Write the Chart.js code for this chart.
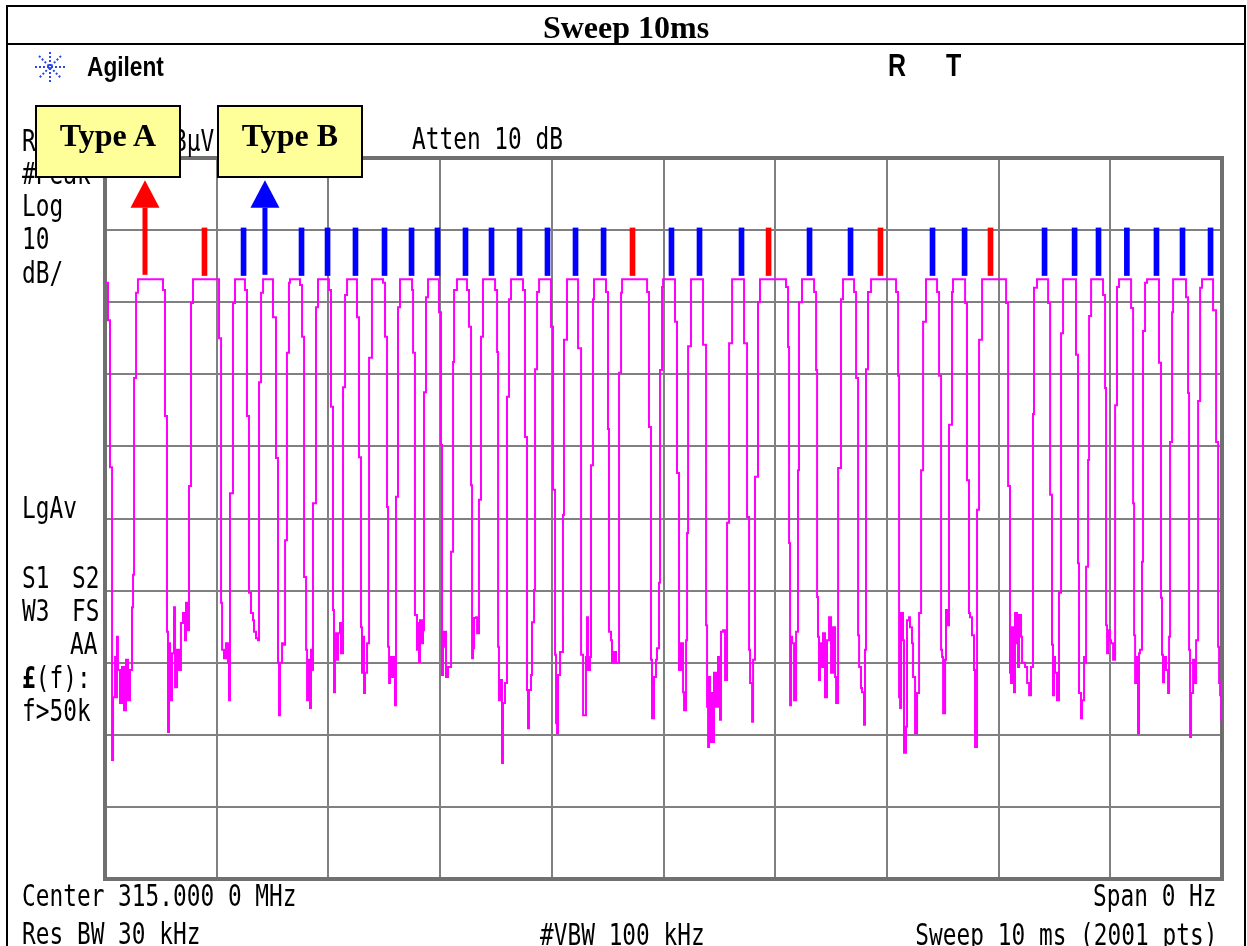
<!DOCTYPE html>
<html><head><meta charset="utf-8">
<script src="https://cdn.jsdelivr.net/npm/chart.js@4.4.1/dist/chart.umd.min.js"></script>
<style>
html,body{margin:0;padding:0;background:#fff;}
#wrap{position:relative;width:1247px;height:946px;overflow:hidden;background:#fff;}
#c{position:absolute;left:0;top:0;}
.outer{position:absolute;left:6px;top:5px;width:1236px;height:1000px;border:2px solid #000;}
.sep{position:absolute;left:6px;top:43px;width:1240px;height:2px;background:#000;}
.title{position:absolute;left:6px;top:9px;width:1240px;text-align:center;font:bold 32px "Liberation Serif";line-height:36px;color:#000;}
.ins{position:absolute;font-family:"DejaVu Sans Mono";font-size:30px;line-height:30px;transform:scaleX(0.76);transform-origin:0 0;white-space:pre;color:#000;}
.insr{transform-origin:100% 0;}
.brand{position:absolute;font-family:"Liberation Sans";font-weight:bold;white-space:pre;color:#000;transform-origin:0 0;}
.box{position:absolute;top:105px;width:142px;height:69px;border:2px solid #000;background:#ffff99;}
.boxt{position:absolute;top:117px;width:146px;text-align:center;font:bold 32px "Liberation Serif";line-height:36px;color:#000;}
</style></head>
<body>
<div id="wrap">
<canvas id="c" width="1247" height="946"></canvas>
<div class="outer"></div>
<div class="sep"></div>
<div class="title">Sweep 10ms</div>

<svg style="position:absolute;left:34px;top:51px" width="32" height="32" viewBox="0 0 32 32">
 <g stroke="#2a48e8" stroke-width="2" stroke-dasharray="2 2">
  <line x1="16" y1="1" x2="16" y2="31"/><line x1="1" y1="16" x2="31" y2="16"/>
  <line x1="5" y1="5" x2="27" y2="27"/><line x1="27" y1="5" x2="5" y2="27"/>
 </g>
</svg>
<div class="brand" style="left:87px;top:53px;font-size:28px;line-height:28px;transform:scaleX(0.81)">Agilent</div>
<div class="brand" style="left:888px;top:49px;font-size:32px;line-height:32px;transform:scaleX(0.78)">R</div>
<div class="brand" style="left:946px;top:49px;font-size:32px;line-height:32px;transform:scaleX(0.78)">T</div>

<div class="ins" style="left:22px;top:126px">Ref 107.0 dBµV</div>
<div class="ins" style="left:22px;top:159px">#Peak</div>
<div class="ins" style="left:412px;top:124px">Atten 10 dB</div>
<div class="ins" style="left:22px;top:191px">Log</div>
<div class="ins" style="left:22px;top:224px">10</div>
<div class="ins" style="left:22px;top:258px">dB/</div>
<div class="ins" style="left:22px;top:493px">LgAv</div>
<div class="ins" style="left:22px;top:563px">S1</div>
<div class="ins" style="left:72px;top:563px">S2</div>
<div class="ins" style="left:22px;top:596px">W3</div>
<div class="ins" style="left:72px;top:596px">FS</div>
<div class="ins" style="left:70px;top:629px">AA</div>
<div class="ins" style="left:22px;top:663px"><b>£</b>(f):</div>
<div class="ins" style="left:22px;top:696px">f&gt;50k</div>
<div class="ins" style="left:22px;top:881px">Center 315.000 0 MHz</div>
<div class="ins" style="left:22px;top:919px">Res BW 30 kHz</div>
<div class="ins" style="left:540px;top:920px">#VBW 100 kHz</div>
<div class="ins insr" style="right:30px;top:881px">Span 0 Hz</div>
<div class="ins insr" style="right:30px;top:920px">Sweep 10 ms (2001 pts)</div>

<div class="box" style="left:35px"></div>
<div class="boxt" style="left:35px">Type A</div>
<div class="box" style="left:217px"></div>
<div class="boxt" style="left:217px">Type B</div>
</div>

<script>
// Sweep: 0..10000 µs, level in dB relative to reference (top line = 0 dB, 10 dB/div)
const tracePoints = [
 [0,-17.3],[27,-22.5],[45,-42.9],[63,-83.5],
 [72,-74.8],[90,-69.2],[98,-74.8],[107,-66.4],[116,-71.0],[134,-75.6],[152,-70.6],[170,-76.6],[188,-69.6],[206,-75.2],[224,-71.0],[242,-62.3],[251,-57.8],
 [260,-30.5],[278,-18.7],[295,-16.8],[519,-18.3],[537,-35.8],[555,-65.7],
 [564,-79.6],[573,-67.3],[582,-75.2],[600,-68.7],[618,-62.3],[627,-73.4],[645,-68.2],[663,-71.0],[680,-64.5],[698,-63.1],[716,-66.9],[725,-61.7],[743,-65.5],
 [752,-45.5],[770,-20.1],[788,-16.8],[1021,-25.0],[1039,-61.7],
 [1048,-68.2],[1065,-69.4],[1083,-67.3],[1101,-70.0],[1110,-75.2],
 [1119,-46.5],[1146,-20.1],[1164,-16.8],[1253,-18.3],[1271,-35.8],[1289,-60.3],
 [1307,-63.1],[1325,-64.1],[1334,-65.7],[1352,-66.6],[1370,-66.9],
 [1379,-31.1],[1397,-18.7],[1415,-16.8],[1504,-22.1],[1531,-41.6],[1549,-70.0],
 [1558,-77.3],[1567,-70.0],[1585,-67.3],[1594,-67.5],
 [1612,-53.0],[1629,-27.0],[1647,-17.3],[1656,-16.8],[1746,-17.6],[1764,-24.8],[1782,-58.1],
 [1800,-68.2],[1809,-75.2],[1817,-69.6],[1835,-76.3],[1844,-68.2],[1853,-71.0],
 [1862,-47.9],[1889,-20.7],[1907,-16.8],[2005,-18.3],[2023,-34.5],[2041,-62.7],
 [2050,-74.1],[2059,-65.9],[2077,-69.6],[2086,-65.9],[2104,-64.5],[2113,-68.7],
 [2131,-31.8],[2149,-19.0],[2167,-16.8],[2256,-22.1],[2274,-41.5],[2292,-65.1],
 [2301,-71.4],[2310,-66.4],[2319,-74.2],[2328,-71.4],[2346,-67.3],
 [2364,-27.7],[2390,-16.8],[2489,-17.3],[2507,-24.8],[2525,-48.4],[2534,-67.8],
 [2543,-72.8],[2552,-69.2],[2570,-72.0],[2587,-69.2],[2596,-75.9],
 [2605,-47.0],[2623,-20.7],[2641,-16.8],[2749,-18.3],[2758,-27.0],[2775,-63.4],
 [2793,-68.2],[2802,-64.5],[2811,-69.9],[2820,-64.1],[2838,-67.3],[2847,-65.5],
 [2856,-32.5],[2874,-19.3],[2892,-16.8],[2990,-21.4],[3008,-39.8],[3017,-71.7],
 [3026,-67.8],[3035,-65.7],[3053,-72.0],[3071,-70.6],
 [3098,-54.6],[3116,-28.3],[3125,-18.3],[3151,-16.8],[3241,-18.3],[3259,-23.4],[3277,-45.4],[3286,-69.4],
 [3295,-68.0],[3304,-63.8],[3322,-63.7],[3331,-65.9],
 [3348,-47.4],[3366,-24.8],[3384,-16.8],[3492,-18.3],[3510,-26.9],[3519,-67.8],
 [3527,-75.2],[3536,-72.4],[3554,-83.9],[3563,-75.6],[3581,-72.8],
 [3599,-33.1],[3617,-19.6],[3635,-16.8],[3742,-18.3],[3760,-38.7],[3778,-73.8],
 [3787,-79.1],[3796,-73.8],[3814,-71.7],[3823,-64.4],[3841,-59.9],
 [3850,-29.3],[3868,-18.6],[3886,-16.8],[3993,-23.4],[4011,-46.0],[4029,-68.9],
 [4038,-78.4],[4047,-79.8],[4056,-71.7],[4074,-68.5],
 [4100,-49.5],[4109,-25.2],[4136,-16.8],[4235,-26.4],[4262,-68.9],
 [4280,-77.3],[4306,-69.2],[4315,-63.7],[4324,-71.0],[4342,-69.2],
 [4351,-42.6],[4369,-19.6],[4378,-16.8],[4485,-18.6],[4503,-37.6],[4512,-65.7],
 [4530,-66.9],[4539,-70.0],[4557,-68.5],[4575,-70.0],
 [4602,-29.8],[4620,-18.7],[4629,-16.8],[4853,-18.6],[4870,-37.3],[4888,-69.6],
 [4897,-77.7],[4915,-72.0],[4933,-69.6],[4942,-68.0],[4960,-58.9],
 [4969,-29.4],[4987,-17.9],[4996,-16.8],[5103,-22.7],[5121,-43.7],[5139,-71.0],
 [5157,-67.3],[5175,-74.1],[5184,-76.6],[5202,-66.9],
 [5211,-52.0],[5220,-26.1],[5246,-16.8],[5354,-25.9],[5381,-64.8],
 [5390,-76.1],[5399,-81.7],[5408,-72.0],[5417,-81.0],[5426,-74.2],[5443,-81.0],[5452,-71.4],[5470,-76.1],[5488,-69.2],[5506,-77.9],[5515,-65.7],[5533,-65.5],[5551,-72.4],
 [5569,-50.6],[5587,-25.7],[5614,-16.8],[5721,-25.7],[5748,-49.8],[5766,-68.2],
 [5775,-72.8],[5793,-78.2],[5802,-69.6],
 [5819,-44.2],[5846,-20.0],[5864,-16.8],[6097,-17.9],[6115,-26.2],[6124,-53.4],[6133,-75.9],[6142,-66.4],
 [6151,-67.3],[6169,-75.2],[6187,-65.7],
 [6204,-43.3],[6213,-20.0],[6240,-16.8],[6348,-18.6],[6366,-29.4],[6375,-60.9],
 [6383,-66.4],[6392,-72.4],[6401,-67.3],[6419,-70.6],[6428,-65.9],[6446,-74.8],[6464,-66.9],[6482,-63.7],[6500,-71.4],[6518,-65.1],[6536,-72.0],[6545,-75.6],
 [6563,-43.0],[6589,-19.6],[6607,-16.8],[6706,-18.6],[6724,-30.5],[6742,-66.2],
 [6751,-70.6],[6768,-73.5],[6777,-74.1],[6795,-78.6],[6804,-68.2],
 [6813,-29.3],[6831,-18.6],[6858,-16.8],[7082,-18.6],[7100,-30.2],[7109,-74.8],
 [7118,-76.3],[7127,-63.1],[7144,-66.9],[7153,-82.5],[7171,-78.9],[7180,-64.1],[7198,-63.7],[7207,-65.1],[7225,-67.3],[7234,-72.0],[7252,-79.8],[7270,-74.2],[7288,-63.1],
 [7306,-43.3],[7324,-22.7],[7350,-16.8],[7449,-18.6],[7467,-30.2],[7485,-68.2],
 [7494,-69.2],[7503,-77.0],[7521,-69.6],[7529,-62.7],[7547,-64.8],
 [7556,-37.0],[7583,-18.6],[7592,-16.8],[7700,-20.1],[7717,-44.7],[7735,-63.1],
 [7744,-63.7],[7762,-66.2],[7780,-71.0],[7789,-81.7],
 [7807,-48.8],[7825,-25.2],[7852,-16.8],[8067,-20.1],[8085,-45.5],[8102,-71.4],
 [8111,-72.8],[8120,-65.1],[8138,-74.1],[8147,-63.1],[8165,-67.3],[8174,-70.6],[8183,-63.4],[8201,-66.4],[8210,-70.0],[8237,-70.6],[8255,-72.8],[8273,-74.5],[8290,-70.6],
 [8308,-35.5],[8317,-18.0],[8344,-16.8],[8443,-20.1],[8461,-46.7],[8478,-67.5],
 [8487,-74.5],[8496,-69.2],[8505,-71.4],[8523,-75.2],[8541,-60.3],
 [8559,-24.3],[8577,-16.8],[8693,-27.3],[8711,-56.2],[8720,-74.2],
 [8738,-77.7],[8747,-75.2],[8765,-69.2],[8774,-70.0],[8783,-56.7],
 [8801,-41.9],[8810,-21.9],[8828,-16.8],[8935,-19.0],[8953,-31.9],[8962,-64.8],
 [8971,-68.7],[8980,-65.5],[8998,-66.9],[9007,-67.3],[9025,-69.6],
 [9043,-34.3],[9060,-17.9],[9078,-16.8],[9186,-20.8],[9204,-47.9],[9213,-66.2],
 [9222,-72.8],[9231,-69.2],[9248,-79.8],[9257,-68.7],[9266,-68.2],
 [9284,-56.0],[9293,-24.0],[9311,-17.3],[9329,-16.8],[9436,-28.4],[9454,-61.0],
 [9463,-68.9],[9472,-72.7],[9481,-69.2],[9499,-71.0],[9517,-74.2],[9526,-66.4],
 [9535,-39.4],[9553,-21.4],[9562,-16.8],[9678,-19.3],[9696,-32.6],[9705,-68.2],
 [9714,-80.3],[9723,-74.2],[9741,-69.6],[9750,-72.8],[9768,-66.9],
 [9786,-33.7],[9804,-18.0],[9821,-16.8],[9920,-21.1],[9947,-39.4],[9965,-67.8],
 [9974,-72.8],[9983,-74.5],[9992,-77.9],[10000,-82.5]
];
// Burst markers (µs): Type A (red) and Type B (blue)
const typeAUs = [913, 4745, 5963, 6965, 7950];
const typeBUs = [1218, 1737, 1970, 2220, 2480, 2722, 2954, 3205, 3438, 3689, 3939, 4190, 4441,
                 5049, 5300, 5676, 6285, 6652, 7386, 7673, 8389, 8658, 8872, 9126, 9391, 9624, 9875];
const markerRangeDb = [-16.3, -9.7];
// Arrows pointing at the labelled bursts
const arrowUs = [358, 1432];
const arrowColors = ['#ff0000', '#0000ff'];
const arrowDb = {base: -16.2, head: -6.9, tip: -3.1};
const xTicksUs = [0, 1000, 2000, 3000, 4000, 5000, 6000, 7000, 8000, 9000, 10000];
const yTicksDb = [-100, -90, -80, -70, -60, -50, -40, -30, -20, -10, 0];

const framePlugin = {
  id: 'frame',
  beforeDatasetsDraw(chart) {
    const {ctx, chartArea: a} = chart;
    ctx.save();
    ctx.strokeStyle = '#707070';
    ctx.lineWidth = 4;
    ctx.strokeRect(a.left, a.top, a.right - a.left, a.bottom - a.top);
    ctx.restore();
  }
};
const arrowPlugin = {
  id: 'arrows',
  afterDatasetsDraw(chart) {
    const {ctx} = chart, xs = chart.scales.x, ys = chart.scales.y;
    ctx.save();
    arrowUs.forEach((t, i) => {
      const px = xs.getPixelForValue(t);
      const yb = ys.getPixelForValue(arrowDb.base);
      const yh = ys.getPixelForValue(arrowDb.head);
      const yt = ys.getPixelForValue(arrowDb.tip);
      ctx.fillStyle = arrowColors[i];
      ctx.fillRect(px - 2.5, yh, 5, yb - yh);
      ctx.beginPath();
      ctx.moveTo(px, yt);
      ctx.lineTo(px - 14.5, yh);
      ctx.lineTo(px + 14.5, yh);
      ctx.closePath();
      ctx.fill();
    });
    ctx.restore();
  }
};

new Chart(document.getElementById('c'), {
  type: 'line',
  data: {
    datasets: [
      {
        type: 'line',
        data: tracePoints.map(p => ({x: p[0], y: p[1]})),
        borderColor: '#ff00ff',
        borderWidth: 2,
        pointRadius: 0,
        stepped: true,
        tension: 0,
        order: 2
      },
      {
        type: 'bar',
        data: typeAUs.map(t => ({x: t, y: markerRangeDb})),
        backgroundColor: '#ff0000',
        barThickness: 5,
        order: 1
      },
      {
        type: 'bar',
        data: typeBUs.map(t => ({x: t, y: markerRangeDb})),
        backgroundColor: '#0000ff',
        barThickness: 5,
        order: 1
      }
    ]
  },
  options: {
    responsive: false,
    animation: false,
    events: [],
    layout: {padding: {left: 105, right: 25, top: 158, bottom: 67}},
    plugins: {legend: {display: false}, tooltip: {enabled: false}, title: {display: false}},
    scales: {
      x: {
        type: 'linear', min: xTicksUs[0], max: xTicksUs[xTicksUs.length - 1], offset: false,
        afterBuildTicks: s => { s.ticks = xTicksUs.map(v => ({value: v})); },
        ticks: {display: false},
        grid: {color: '#808080', lineWidth: 2, drawTicks: false, offset: false},
        border: {display: false}
      },
      y: {
        type: 'linear', min: yTicksDb[0], max: yTicksDb[yTicksDb.length - 1],
        afterBuildTicks: s => { s.ticks = yTicksDb.map(v => ({value: v})); },
        ticks: {display: false},
        grid: {color: '#808080', lineWidth: 2, drawTicks: false, offset: false},
        border: {display: false}
      }
    }
  },
  plugins: [framePlugin, arrowPlugin]
});
</script>
</body></html>
